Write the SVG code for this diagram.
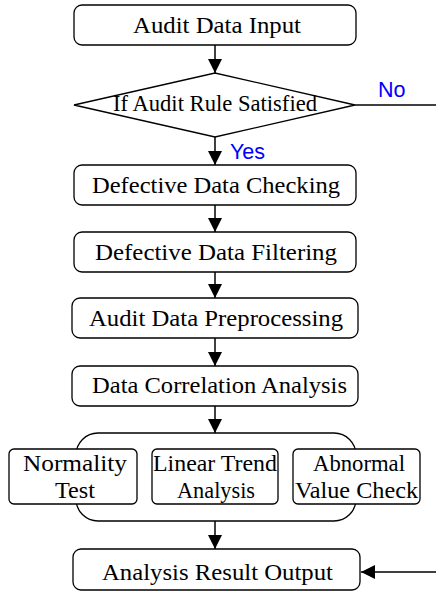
<svg xmlns="http://www.w3.org/2000/svg" width="436" height="591" viewBox="0 0 436 591">
  <style>
    .box { fill: #fff; stroke: #000; stroke-width: 1.3; }
    .lbl { font-family: "Liberation Serif", "Times New Roman", serif; font-size: 23.5px; fill: #000; text-anchor: middle; }
    .tag { font-family: "Liberation Sans", Arial, sans-serif; font-size: 21.5px; fill: #0000ff; }
    .wire { fill: none; stroke: #000; stroke-width: 1.5; }
  </style>
  <defs>
    <marker id="arrow" viewBox="0 0 14 14" refX="14" refY="7" markerWidth="14" markerHeight="14" markerUnits="userSpaceOnUse" orient="auto">
      <path d="M0,0 L14,7 L0,14 Z" fill="#000"/>
    </marker>
  </defs>

  <!-- connectors -->
  <g id="connectors">
    <line class="wire" x1="215" y1="45" x2="215" y2="73" marker-end="url(#arrow)"/>
    <line class="wire" x1="215" y1="137" x2="215" y2="165" marker-end="url(#arrow)"/>
    <line class="wire" x1="215" y1="205" x2="215" y2="232" marker-end="url(#arrow)"/>
    <line class="wire" x1="215" y1="272" x2="215" y2="298" marker-end="url(#arrow)"/>
    <line class="wire" x1="215" y1="338" x2="215" y2="366" marker-end="url(#arrow)"/>
    <line class="wire" x1="215" y1="406" x2="215" y2="433" marker-end="url(#arrow)"/>
    <line class="wire" x1="215" y1="521" x2="215" y2="549" marker-end="url(#arrow)"/>
    <line class="wire" x1="355" y1="105" x2="436" y2="105"/>
    <line class="wire" x1="436" y1="572" x2="361" y2="572" marker-end="url(#arrow)"/>
    <text class="tag" x="378" y="97">No</text>
    <text class="tag" x="230" y="159">Yes</text>
  </g>

  <g id="audit-data-input">
    <rect class="box" x="74" y="5" width="282" height="40" rx="8"/>
    <text class="lbl" x="217" y="33" textLength="168" lengthAdjust="spacingAndGlyphs">Audit Data Input</text>
  </g>

  <g id="audit-rule-check">
    <polygon class="box" points="74,105 215,73 355,105 215,137"/>
    <text class="lbl" x="215" y="111" textLength="204" lengthAdjust="spacingAndGlyphs">If Audit Rule Satisfied</text>
  </g>

  <g id="defective-data-checking">
    <rect class="box" x="74" y="165" width="282" height="40" rx="8"/>
    <text class="lbl" x="216" y="193" textLength="248" lengthAdjust="spacingAndGlyphs">Defective Data Checking</text>
  </g>

  <g id="defective-data-filtering">
    <rect class="box" x="74" y="232" width="282" height="40" rx="8"/>
    <text class="lbl" x="216" y="260" textLength="242" lengthAdjust="spacingAndGlyphs">Defective Data Filtering</text>
  </g>

  <g id="audit-data-preprocessing">
    <rect class="box" x="72" y="298" width="286" height="40" rx="8"/>
    <text class="lbl" x="216" y="326" textLength="254" lengthAdjust="spacingAndGlyphs">Audit Data Preprocessing</text>
  </g>

  <g id="data-correlation-analysis">
    <rect class="box" x="72" y="366" width="286" height="40" rx="8"/>
    <text class="lbl" x="219.5" y="393" textLength="255" lengthAdjust="spacingAndGlyphs">Data Correlation Analysis</text>
  </g>

  <g id="analysis-group">
    <rect class="box" x="76" y="433" width="280" height="88" rx="22"/>
  </g>

  <g id="normality-test">
    <rect class="box" x="9" y="449" width="128" height="55" rx="5"/>
    <text class="lbl" x="75" y="471" textLength="104" lengthAdjust="spacingAndGlyphs">Normality</text>
    <text class="lbl" x="75" y="498" textLength="40" lengthAdjust="spacingAndGlyphs">Test</text>
  </g>

  <g id="linear-trend-analysis">
    <rect class="box" x="152" y="449" width="126" height="55" rx="5"/>
    <text class="lbl" x="215" y="471" textLength="124" lengthAdjust="spacingAndGlyphs">Linear Trend</text>
    <text class="lbl" x="216" y="498" textLength="78" lengthAdjust="spacingAndGlyphs">Analysis</text>
  </g>

  <g id="abnormal-value-check">
    <rect class="box" x="293" y="449" width="127" height="55" rx="5"/>
    <text class="lbl" x="359" y="471" textLength="92" lengthAdjust="spacingAndGlyphs">Abnormal</text>
    <text class="lbl" x="356.5" y="498" textLength="123" lengthAdjust="spacingAndGlyphs">Value Check</text>
  </g>

  <g id="analysis-result-output">
    <rect class="box" x="73" y="549" width="287" height="41" rx="8"/>
    <text class="lbl" x="217.5" y="580" textLength="231" lengthAdjust="spacingAndGlyphs">Analysis Result Output</text>
  </g>
</svg>
